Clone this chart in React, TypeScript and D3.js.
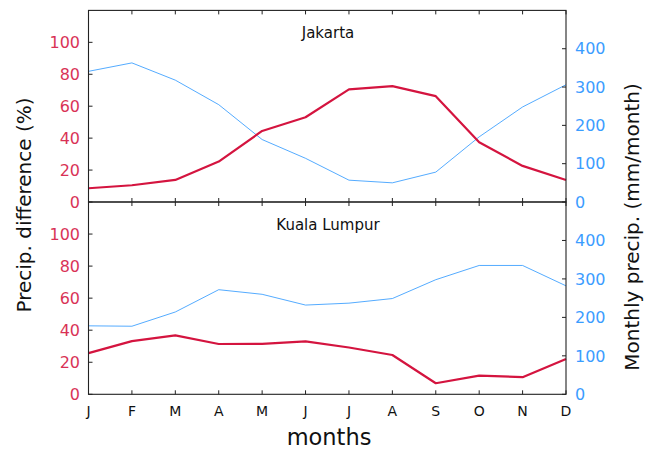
import React from "react";
import * as d3 from "d3";

const months = ["J", "F", "M", "A", "M", "J", "J", "A", "S", "O", "N", "D"];
const cities = ["Jakarta", "Kuala Lumpur"];
const jakartaDiff = [8.6, 10.5, 13.8, 25.3, 44.5, 53.1, 70.5, 72.6, 66.3, 37.4, 22.6, 13.8];
const jakartaPrecip = [341, 363, 318, 254, 163, 114, 57, 50, 78, 170, 248, 306];
const klDiff = [25.7, 33.2, 36.8, 31.4, 31.5, 33.0, 29.2, 24.5, 6.9, 11.7, 10.7, 22.0];
const klPrecip = [178, 177, 214, 272, 260, 232, 237, 249, 298, 335, 335, 282];
const leftTicks = [0, 20, 40, 60, 80, 100];
const rightTicks = [0, 100, 200, 300, 400];

const W = 646, H = 450;
const L = 88.5, R = 566;
const panels = [
  { top: 10.4, bottom: 202, diff: jakartaDiff, precip: jakartaPrecip, title: cities[0] },
  { top: 202, bottom: 394.3, diff: klDiff, precip: klPrecip, title: cities[1] },
];
const RED = "#d4143f";
const BLUE = "#1e90ff";
const FONT = "DejaVu Sans, sans-serif";

export default function App() {
  const x = d3.scalePoint<number>().domain(d3.range(12)).range([L, R]);
  return (
    <svg width={W} height={H} style={{ position: "absolute", left: 0, top: 0, background: "#fff" }} fontFamily={FONT}>
      {panels.map((p, pi) => {
        const yL = d3.scaleLinear().domain([0, 120]).range([p.bottom, p.top]);
        const yR = d3.scaleLinear().domain([0, 500]).range([p.bottom, p.top]);
        const redLine = d3.line<number>().x((_, i) => x(i)!).y((d) => yL(d));
        const blueLine = d3.line<number>().x((_, i) => x(i)!).y((d) => yR(d));
        return (
          <g key={pi}>
            <path d={blueLine(p.precip)!} fill="none" stroke={BLUE} strokeWidth={0.9} opacity={0.85} />
            <path d={redLine(p.diff)!} fill="none" stroke={RED} strokeWidth={2.2} strokeLinejoin="round" />
            <rect x={L} y={p.top} width={R - L} height={p.bottom - p.top} fill="none" stroke="#222" strokeWidth={1.1} />
            {months.map((m, i) => (
              <g key={i}>
                <line x1={x(i)} x2={x(i)} y1={p.top} y2={p.top + 4} stroke="#222" />
                <line x1={x(i)} x2={x(i)} y1={p.bottom} y2={p.bottom - 4} stroke="#222" />
                {pi === 1 && (
                  <text x={x(i)} y={415.5} textAnchor="middle" fontSize={14} fill="#111">{m}</text>
                )}
              </g>
            ))}
            {leftTicks.map((t) => (
              <g key={"l" + t}>
                <line x1={L} x2={L + 4} y1={yL(t)} y2={yL(t)} stroke="#222" />
                <text x={80} y={yL(t)} dy="0.36em" textAnchor="end" fontSize={16} fill={RED} opacity={0.88}>{t}</text>
              </g>
            ))}
            {rightTicks.map((t) => (
              <g key={"r" + t}>
                <line x1={R - 4} x2={R} y1={yR(t)} y2={yR(t)} stroke="#222" />
                <text x={575} y={yR(t)} dy="0.36em" textAnchor="start" fontSize={16} fill={BLUE} opacity={0.88}>{t}</text>
              </g>
            ))}
            <text x={328} y={p.top + 27.5} textAnchor="middle" fontSize={15} fill="#111">{p.title}</text>
          </g>
        );
      })}
      <text transform="translate(31,205) rotate(-90)" textAnchor="middle" fontSize={20} fill="#111">Precip. difference (%)</text>
      <text transform="translate(638.5,227) rotate(-90)" textAnchor="middle" fontSize={20} fill="#111">Monthly precip. (mm/month)</text>
      <text x={329} y={445} textAnchor="middle" fontSize={22.5} fill="#111">months</text>
    </svg>
  );
}
